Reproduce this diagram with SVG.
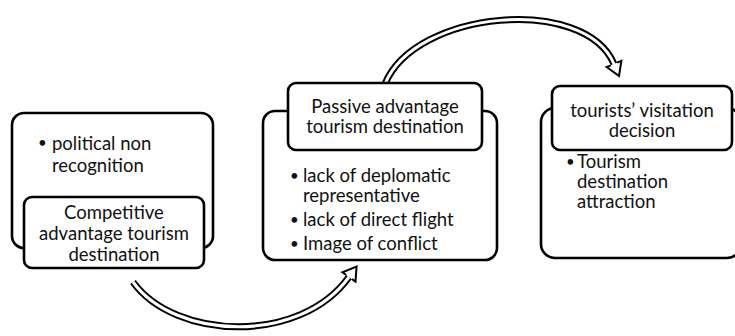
<svg xmlns="http://www.w3.org/2000/svg" width="735" height="336" viewBox="0 0 735 336">
<style>
.box{fill:#fff;stroke:#000;stroke-width:2.6}
.t{font-family:Lato,"Open Sans",sans-serif;font-size:18.5px;fill:#111}
.b{font-family:Lato,"Open Sans",sans-serif;font-size:15px;fill:#111}
.c{text-anchor:middle}
.sh{fill:none;stroke:#000;stroke-width:7}
.shi{fill:none;stroke:#fff;stroke-width:3}
</style>
<defs>
<marker id="ah" markerUnits="userSpaceOnUse" markerWidth="20" markerHeight="20" refX="0" refY="0" viewBox="-2 -10 18 20" orient="auto" overflow="visible">
<path d="M0,-3.5 L0,-8 L13,0 L0,8 L0,3.5" fill="#fff" stroke="#000" stroke-width="2"/>
</marker>
</defs>
<g id="connectors">
<path class="sh" d="M133,282 C175,340 300,345 349,277" marker-end="url(#ah)"/>
<path class="shi" d="M133,282 C175,340 300,345 349,277"/>
<path class="sh" d="M385,84 C415,10 585,-5 614,64" marker-end="url(#ah)"/>
<path class="shi" d="M385,84 C415,10 585,-5 614,64"/>
</g>
<g id="node-competitive">
<rect class="box" x="12" y="113" width="201" height="135" rx="12"/>
<text class="b" x="38" y="148">•</text>
<text class="t" x="52" y="150">political non</text>
<text class="t" x="52" y="172">recognition</text>
<rect class="box" x="24" y="197" width="180" height="71" rx="8"/>
<text class="t c" x="114" y="219">Competitive</text>
<text class="t c" x="114" y="240">advantage tourism</text>
<text class="t c" x="114" y="261">destination</text>
</g>
<g id="node-passive">
<rect class="box" x="263" y="111" width="234" height="149" rx="12"/>
<rect class="box" x="288" y="83" width="194" height="67" rx="8"/>
<text class="t c" x="385" y="113">Passive advantage</text>
<text class="t c" x="385" y="133">tourism destination</text>
<text class="b" x="290" y="181">•</text>
<text class="t" x="303" y="182">lack of deplomatic</text>
<text class="t" x="303" y="202">representative</text>
<text class="b" x="290" y="225">•</text>
<text class="t" x="303" y="226">lack of direct flight</text>
<text class="b" x="290" y="249">•</text>
<text class="t" x="303" y="250">Image of conflict</text>
</g>
<g id="node-decision">
<rect class="box" x="541" y="108" width="200" height="150" rx="14"/>
<rect class="box" x="552" y="86" width="180" height="64" rx="8"/>
<text class="t c" x="642" y="117">tourists’ visitation</text>
<text class="t c" x="642" y="137">decision</text>
<text class="b" x="566" y="167">•</text>
<text class="t" x="577" y="168">Tourism</text>
<text class="t" x="577" y="188">destination</text>
<text class="t" x="577" y="208">attraction</text>
</g>
</svg>
